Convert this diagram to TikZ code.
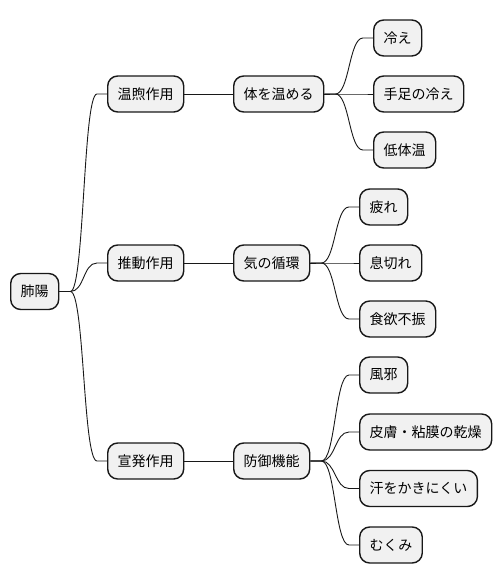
\documentclass[tikz,border=0pt]{standalone}
\usepackage{fontspec}
\setmainfont{Noto Sans CJK JP}
\definecolor{boxfill}{HTML}{F1F1F1}
\definecolor{linec}{HTML}{181818}
\begin{document}
\begin{tikzpicture}[x=1pt,y=-1pt,
  box/.style={draw=linec, fill=boxfill, line width=1.4pt, rounded corners=10pt,
    inner xsep=10pt, inner ysep=0pt, minimum height=36pt, anchor=west,
    font=\fontsize{14pt}{16pt}\selectfont, text=black},
  conn/.style={draw=linec, line width=0.9pt}]
\useasboundingbox (0,0) rectangle (502,583);
% root
\node[box] (root) at (10,291.5) {肺陽};
% level 1
\node[box] (l1a) at (107,94) {温煦作用};
\node[box] (l1b) at (107,263) {推動作用};
\node[box] (l1c) at (107,461) {宣発作用};
% level 2
\node[box] (l2a) at (233,94) {体を温める};
\node[box] (l2b) at (233,263) {気の循環};
\node[box] (l2c) at (233,461) {防御機能};
% level 3
\node[box] (a1) at (373,38) {冷え};
\node[box] (a2) at (373,94) {手足の冷え};
\node[box] (a3) at (373,150) {低体温};
\node[box] (b1) at (359,207) {疲れ};
\node[box] (b2) at (359,263) {息切れ};
\node[box] (b3) at (359,319) {食欲不振};
\node[box] (c1) at (359,375) {風邪};
\node[box] (c2) at (359,432) {皮膚・粘膜の乾燥};
\node[box] (c3) at (359,488.5) {汗をかきにくい};
\node[box] (c4) at (359,545) {むくみ};
% connectors
\foreach \p/\c in {root/l1a, root/l1b, root/l1c, l2a/a1, l2a/a2, l2a/a3, l2b/b1, l2b/b2, l2b/b3, l2c/c1, l2c/c2, l2c/c3, l2c/c4}
  \draw[conn] (\p.east) -- ++(11,0) .. controls +(14,0) and +(-14,0) .. ([xshift=-10pt]\c.west) -- (\c.west);
\draw[conn] (l1a.east) -- (l2a.west);
\draw[conn] (l1b.east) -- (l2b.west);
\draw[conn] (l1c.east) -- (l2c.west);
\end{tikzpicture}
\end{document}
